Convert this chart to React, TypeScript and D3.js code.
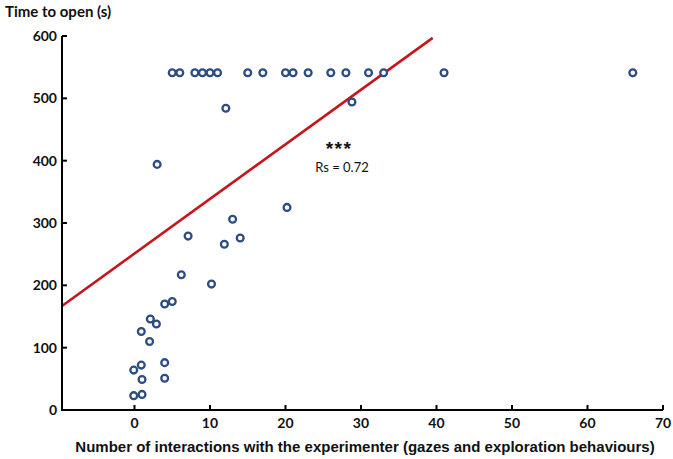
import React from "react";
import * as d3 from "d3";

const W = 673;
const H = 459;

// interactions (x) and time to open in seconds (y)
const interactions = [
  5, 6, 8, 9, 10, 11, 15, 17, 20, 21, 23, 26, 28, 31, 33, 41, 66,
  12.1, 28.8, 3, 20.2, 13, 7.1, 14, 11.9, 6.2, 10.2, 4, 5, 2.1, 2.9, 0.9, 2,
  4, 0.9, -0.1, 1, 4, -0.1, 1,
];
const timeToOpen = [
  541, 541, 541, 541, 541, 541, 541, 541, 541, 541, 541, 541, 541, 541, 541, 541, 541,
  484, 494, 394, 325, 306, 279, 276, 266, 217, 202, 170, 174, 146, 138, 126, 110,
  76, 72, 64, 49, 51, 23, 25,
];

const xTicks = [0, 10, 20, 30, 40, 50, 60, 70];
const yTicks = [0, 100, 200, 300, 400, 500, 600];

// regression line endpoints (x values) and coefficients
const fitX = [-9.6, 39.5];
const fitIntercept = 251;
const fitSlope = 8.76;

export default function App() {
  const x = d3.scaleLinear().domain([-9.6, 70]).range([62, 663]);
  const y = d3.scaleLinear().domain([0, 600]).range([410, 36]);
  const line = d3
    .line<number>()
    .x((d) => x(d))
    .y((d) => y(fitIntercept + fitSlope * d));

  const tickFont = "Lato, 'Open Sans', sans-serif";
  const labelFont = "'Liberation Sans', Arial, sans-serif";

  return (
    <div style={{ position: "absolute", left: 0, top: 0 }}>
      <svg width={W} height={H} style={{ display: "block", background: "#fff" }}>
        {/* y title */}
        <text x={5} y={17} fontFamily={tickFont} fontWeight={700} fontSize={15} fill="#111">
          Time to open (s)
        </text>

        {/* regression line */}
        <path d={line(fitX) || ""} stroke="#c4161c" strokeWidth={2.6} fill="none" />

        {/* axes */}
        <line x1={x(-9.6)} x2={x(-9.6)} y1={y(600)} y2={y(0)} stroke="#000" strokeWidth={2} />
        <line x1={x(-9.6) - 1} x2={x(70)} y1={y(0)} y2={y(0)} stroke="#000" strokeWidth={2} />
        {yTicks.map((t) => (
          <g key={"y" + t}>
            {t > 0 && (
              <line x1={x(-9.6)} x2={x(-9.6) + 5} y1={y(t)} y2={y(t)} stroke="#000" strokeWidth={2} />
            )}
            <text
              x={57}
              y={y(t) + 5}
              textAnchor="end"
              fontFamily={tickFont}
              fontWeight={700}
              fontSize={14}
              fill="#111"
            >
              {t}
            </text>
          </g>
        ))}
        {xTicks.map((t) => (
          <g key={"x" + t}>
            <line x1={x(t)} x2={x(t)} y1={y(0)} y2={y(0) - 5} stroke="#000" strokeWidth={2} />
            <text
              x={x(t)}
              y={428}
              textAnchor="middle"
              fontFamily={tickFont}
              fontWeight={700}
              fontSize={14}
              fill="#111"
            >
              {t}
            </text>
          </g>
        ))}

        {/* x title */}
        <text
          x={365}
          y={452}
          textAnchor="middle"
          fontFamily={labelFont}
          fontWeight={700}
          fontSize={15}
          fill="#111"
        >
          Number of interactions with the experimenter (gazes and exploration behaviours)
        </text>

        {/* points */}
        {interactions.map((v, i) => (
          <circle
            key={i}
            cx={x(v)}
            cy={y(timeToOpen[i])}
            r={3.4}
            fill="#fff"
            stroke="#2c4c86"
            strokeWidth={2.3}
          />
        ))}

        {/* annotation */}
        <text
          x={339}
          y={155}
          textAnchor="middle"
          fontFamily={labelFont}
          fontWeight={700}
          fontSize={19}
          letterSpacing={1.5}
          fill="#111"
        >
          ***
        </text>
        <text x={342} y={172} textAnchor="middle" fontFamily={tickFont} fontSize={13} fill="#111">
          Rs = 0.72
        </text>
      </svg>
    </div>
  );
}
